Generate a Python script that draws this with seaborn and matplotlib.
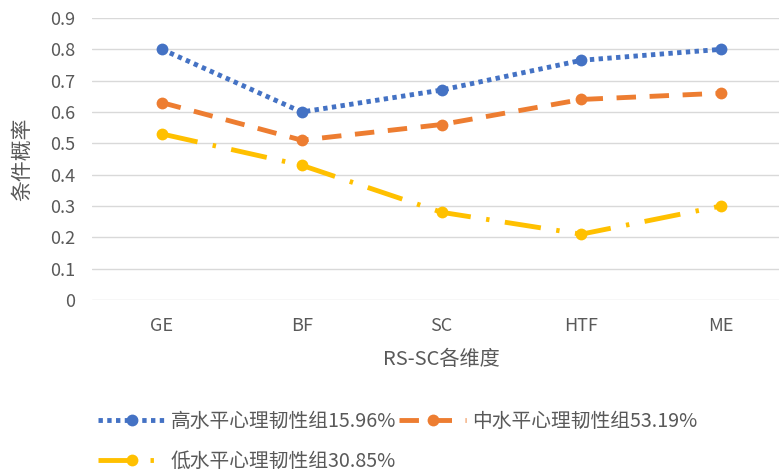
import matplotlib
matplotlib.use("Agg")
import matplotlib.pyplot as plt
import seaborn as sns
import pandas as pd

categories = ["GE", "BF", "SC", "HTF", "ME"]
high_vals = [0.80, 0.60, 0.67, 0.765, 0.80]
mid_vals = [0.63, 0.51, 0.56, 0.64, 0.66]
low_vals = [0.53, 0.43, 0.28, 0.21, 0.30]
series_names = ["高水平心理韧性组15.96%", "中水平心理韧性组53.19%", "低水平心理韧性组30.85%"]
y_ticks = [0, 0.1, 0.2, 0.3, 0.4, 0.5, 0.6, 0.7, 0.8, 0.9]
x_title = "RS-SC各维度"
y_title = "条件概率"

sns.set_theme(style="white")
plt.rcParams["font.family"] = ["Noto Sans CJK SC", "DejaVu Sans"]

fig = plt.figure(figsize=(7.79, 4.75), dpi=100)
ax = fig.add_axes([92/779, 1-300/475, (791-92)/779, 282/475])

colors = ["#4472C4", "#ED7D31", "#FFC000"]
styles = [(0, (0.9, 0.9)), (0, (4.0, 2.8)), (0, (7.5, 3.2, 0.7, 3.2))]
series = [high_vals, mid_vals, low_vals]
for vals, name, c, ls in zip(series, series_names, colors, styles):
    df = pd.DataFrame({"cat": categories, "val": vals})
    sns.lineplot(data=df, x="cat", y="val", ax=ax, color=c, linewidth=3.5,
                 marker="o", markersize=8.5, markeredgewidth=0, label=name,
                 sort=False)
    line = ax.lines[-1]
    line.set_linestyle(ls)
    line.set_dash_capstyle("butt")

ax.set_xlim(-0.5, len(categories) - 0.5)
ax.set_ylim(0, 0.9)
ax.set_yticks(y_ticks)
ax.set_yticklabels([("%g" % t) for t in y_ticks])
ax.grid(axis="y", color="#d9d9d9", linewidth=1)
ax.grid(axis="x", visible=False)
for s in ax.spines.values():
    s.set_visible(False)
ax.tick_params(axis="both", length=0, labelsize=13, colors="#595959", pad=12)
ax.tick_params(axis="x", pad=12)
ax.set_xlabel(x_title, fontsize=14.5, color="#595959", labelpad=10)
ax.set_ylabel(y_title, fontsize=15, color="#595959", labelpad=12)

h, l = ax.get_legend_handles_labels()
if ax.legend_:
    ax.legend_.remove()
order = [0, 2, 1]
leg = fig.legend([h[i] for i in order], [l[i] for i in order], ncol=2,
                 loc="upper left", bbox_to_anchor=(98/779, 1-411/475),
                 frameon=False, fontsize=14.2, handlelength=3.4,
                 handletextpad=0.3, columnspacing=0.15, labelspacing=0.97,
                 numpoints=1, borderaxespad=0, borderpad=0)
for t in leg.get_texts():
    t.set_color("#595959")

fig.savefig("out.png", dpi=100)
